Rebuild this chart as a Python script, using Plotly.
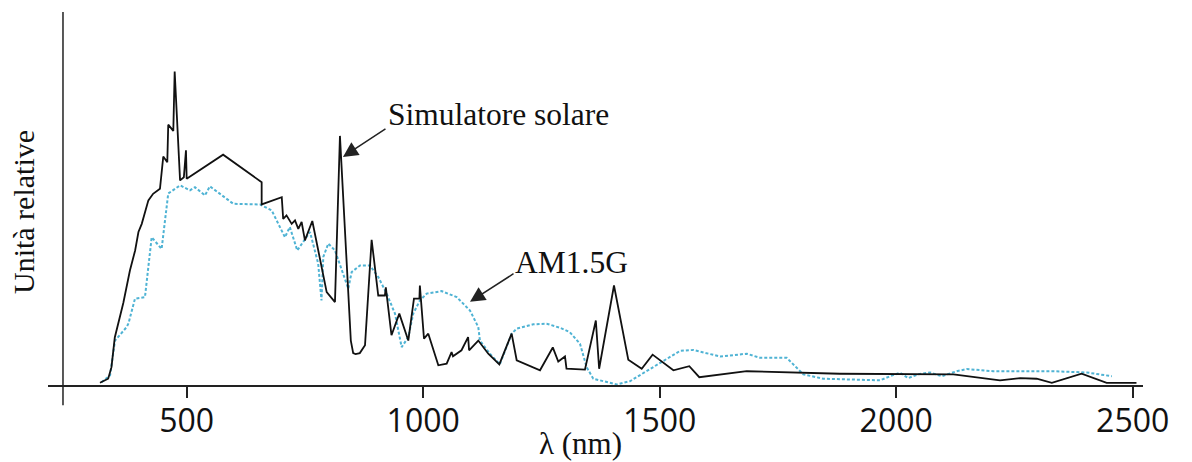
import plotly.graph_objects as go

# Solar simulator spectrum (wavelength in nm, relative units)
sim_wl = [316.7, 334, 341, 348, 366, 380, 391, 398, 405, 419, 429, 443.5, 450.5, 459, 461,
          471.7, 474.6, 486, 494, 498.5, 500, 577, 658.5, 658.5, 701, 704, 711, 722, 729,
          736, 743, 750, 765.6, 796, 813.5, 824, 847, 852, 857, 866, 877, 891, 905, 919,
          921, 933, 949.5, 968.5, 980.5, 992, 993, 1001.7, 1010.8, 1032, 1049.7, 1060,
          1063, 1081, 1095, 1097, 1116.5, 1137.6, 1161, 1187, 1197.7, 1247, 1274, 1285.6,
          1299.8, 1303, 1342, 1365, 1372, 1403.4, 1433.6, 1462, 1485, 1529, 1562.6, 1583.7,
          1684, 1881, 2121, 2163, 2219.5, 2262, 2297, 2329, 2392, 2445, 2508]
sim_val = [0.5, 1.8, 5.5, 15, 26, 36.4, 42.8, 48.7, 51.3, 58.8, 60.9, 62.5, 72.8, 71, 83,
           81, 100, 65.2, 66.2, 74.8, 65.7, 73.4, 64.6, 57.5, 59.8, 52.9, 54, 51.3, 52.4,
           49.7, 51.9, 46, 52.2, 29.5, 26.3, 79.4, 14, 10, 9.7, 10, 12.5, 46.2, 28.4, 28.4,
           31, 15.7, 22.6, 14, 27.4, 27.4, 31.6, 14.6, 16.2, 6.1, 6.6, 10.3,
           9, 10.9, 15.1, 10.9, 14, 9.8, 6.4, 16.2, 7.7, 4.5, 11.8, 7.3,
           8.9, 5, 4.7, 20.4, 5, 31.6, 7.9, 5, 9.5, 4.5, 5.8, 2.3,
           4.2, 3.4, 3.2, 2.3, 1.3, 2, 1.8, 0.5, 3.4, 0.5, 0.5]

# AM1.5G reference spectrum
am_wl = [320, 338, 348.4, 373, 377, 390.7, 411.8, 426, 447, 461, 486, 507, 517.5, 538.7,
         549, 598.6, 655, 679.7, 707.8, 718, 733.8, 760.7, 778, 785, 788.8, 799.4, 813.5,
         827.7, 841.6, 848.8, 866.4, 887.5, 905, 922.8, 940.4, 954.5, 968.5, 979, 993,
         1007.4, 1039, 1070.8, 1099, 1116.5, 1120, 1141, 1162, 1187, 1197.7, 1232.8, 1261,
         1289, 1310, 1331.5, 1345.5, 1359.6, 1409, 1437, 1479, 1507.6, 1543, 1571, 1627.7,
         1684, 1712, 1768.5, 1803.6, 1846, 1966, 1987, 2008, 2025.6, 2046, 2071.5, 2096,
         2128, 2149, 2205, 2332, 2403, 2456]
am_val = [0.7, 2.9, 14, 18.3, 19.5, 27.4, 27.9, 47, 43.3, 61, 63.6, 62, 63, 60.4,
          63.3, 57.7, 57.5, 55.6, 47, 50.3, 42.8, 48.7, 38.6, 26.8, 40.7, 45, 42.8,
          36.4, 30.6, 35.9, 38, 38, 34.3, 29, 22.6, 11.9, 15.1, 22.6, 26.8,
          29, 29.8, 27.9, 23.6, 18.3, 14, 9.8, 6.4, 16.2, 17.8, 19.2, 19.4,
          18.1, 16.7, 13, 5.5, 1.8, 0, 1, 4.8, 7.5, 10.7, 11, 8.9,
          9.8, 8.5, 8.5, 3.2, 1.8, 1.3, 2.6, 3.7, 2, 3.2, 3.8, 2.6,
          4.2, 4.9, 4.2, 4.2, 3.8, 2.6]

tick_vals = [500, 1000, 1500, 2000, 2500]
tick_text = ["500", "1000", "1500", "2000", "2500"]

serif = "Liberation Serif, Times New Roman, serif"

fig = go.Figure()
fig.add_trace(go.Scatter(x=am_wl, y=am_val, mode="lines",
                         line=dict(color="#4fb3d4", width=2, dash="3px,2px"),
                         name="AM1.5G", hoverinfo="skip"))
fig.add_trace(go.Scatter(x=sim_wl, y=sim_val, mode="lines",
                         line=dict(color="#111111", width=1.8),
                         name="Simulatore solare", hoverinfo="skip"))

fig.update_layout(
    width=1192, height=462,
    margin=dict(l=48, r=49, t=12, b=77),
    paper_bgcolor="white", plot_bgcolor="white",
    showlegend=False,
    xaxis=dict(range=[206.8, 2521.8], showgrid=False, zeroline=False,
               showline=True, linecolor="#222", linewidth=1.5,
               ticks="outside", ticklen=11, tickwidth=1.5, tickcolor="#222",
               ticklabelstandoff=-4,
               tickvals=tick_vals, ticktext=tick_text,
               tickfont=dict(family="Open Sans", size=32, color="#111")),
    yaxis=dict(range=[-0.2, 119.0], showgrid=False, zeroline=False,
               showline=False, showticklabels=False, ticks=""),
)

# vertical y axis line crossing below the x axis
fig.add_shape(type="line", xref="x", yref="paper", x0=238.5, x1=238.5,
              y0=-0.054, y1=1.0, line=dict(color="#222", width=1.5))

fig.add_annotation(text="λ (nm)", xref="paper", yref="paper", x=0.486, y=-0.158,
                   xanchor="center", yanchor="middle", showarrow=False,
                   font=dict(family=serif, size=31, color="#111"))
fig.add_annotation(text="Unità relative", xref="paper", yref="paper", x=-0.0228, y=0.4638,
                   xanchor="center", yanchor="middle", textangle=-90, showarrow=False,
                   font=dict(family=serif, size=30, color="#111"))

# series labels with pointer arrows
fig.add_annotation(text="Simulatore solare", xref="x", yref="y", x=1160, y=86.1,
                   xanchor="center", yanchor="middle", showarrow=False,
                   font=dict(family=serif, size=31.5, color="#111"))
fig.add_annotation(text="", xref="x", yref="y", x=830.4, y=72.7, ax=44, ay=-29,
                   showarrow=True, arrowhead=2, arrowsize=2, arrowwidth=1.5,
                   arrowcolor="#222", standoff=0)
fig.add_annotation(text="AM1.5G", xref="x", yref="y", x=1312.5, y=38.8,
                   xanchor="center", yanchor="middle", showarrow=False,
                   font=dict(family=serif, size=31.5, color="#111"))
fig.add_annotation(text="", xref="x", yref="y", x=1099, y=26.4, ax=45, ay=-29,
                   showarrow=True, arrowhead=2, arrowsize=2, arrowwidth=1.5,
                   arrowcolor="#222", standoff=0)

fig.write_html("out.html")
